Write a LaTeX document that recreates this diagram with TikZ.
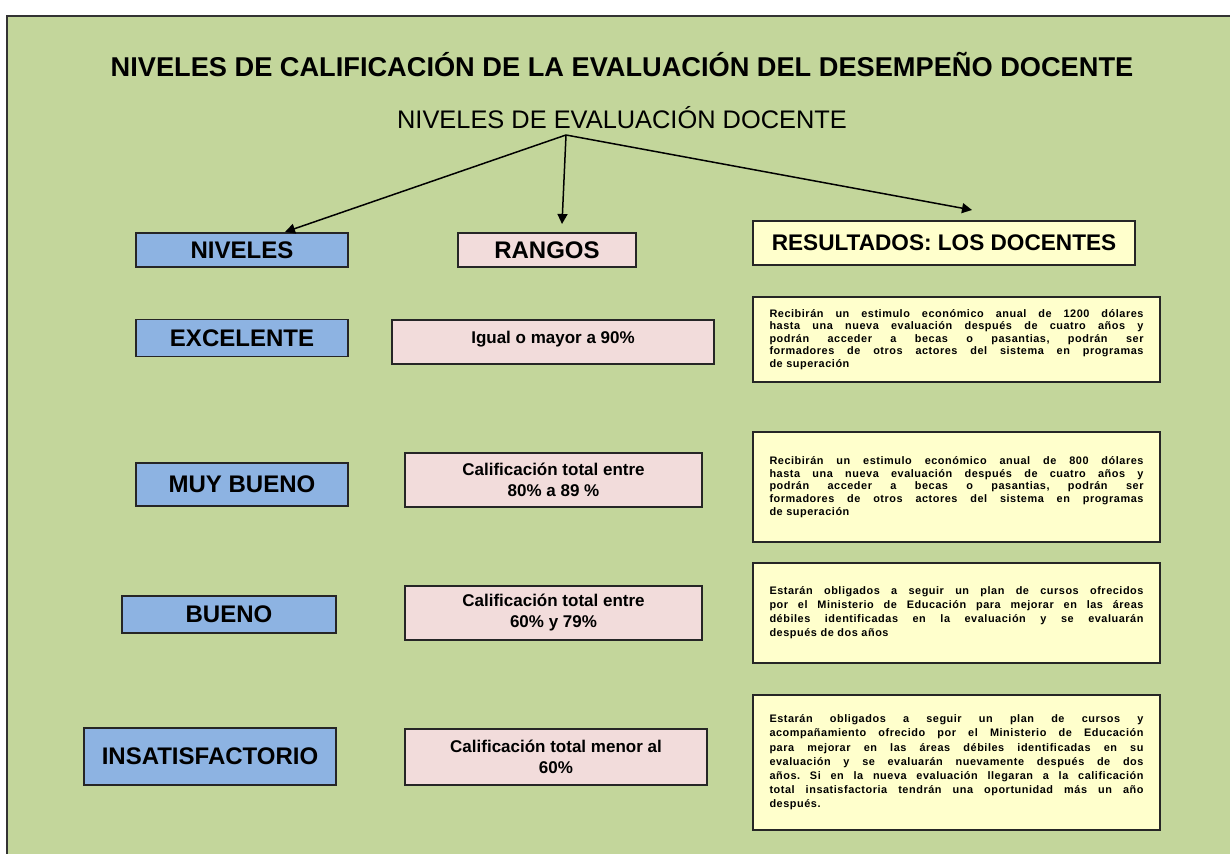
\documentclass[tikz,border=0pt]{standalone}
\usepackage{fontspec}
\setmainfont{Liberation Sans}
\newfontfamily\letrapeque[LetterSpace=5]{Liberation Sans}
\usetikzlibrary{arrows.meta}
\definecolor{fondo}{HTML}{C3D69B}
\definecolor{azul}{HTML}{8DB3E2}
\definecolor{rosa}{HTML}{F2DCDB}
\definecolor{crema}{HTML}{FFFFCC}
\hyphenpenalty=10000
\exhyphenpenalty=10000
\frenchspacing

\begin{document}
\begin{tikzpicture}[x=0.5pt,y=-0.5pt,>={Triangle[length=5pt,width=5pt]},
    caja/.style={draw=black!85,line width=0.8pt,inner sep=0pt},
    nivel/.style={caja,fill=azul,minimum width=106pt,minimum height=18.5pt,
      font=\fontsize{12}{14}\selectfont\bfseries},
    rango/.style={caja,fill=rosa,minimum width=148.5pt,minimum height=27pt,
      align=center,font=\fontsize{8.5}{10.5}\selectfont\bfseries},
    resultado/.style={caja,fill=crema,text width=187pt,inner xsep=8.25pt,
      align=justify,font=\letrapeque\fontsize{5.45}{#1}\selectfont\bfseries}]
  \useasboundingbox (0,0) rectangle (1230,854);
  \fill[fondo] (7,16) rectangle (1230,854);
  \draw[line width=1pt,black!80] (7,854) -- (7,16) -- (1230,16);

  \node[font=\fontsize{13.6}{16}\selectfont\bfseries] (titulo) at (622,65)
    {NIVELES DE CALIFICACIÓN DE LA EVALUACIÓN DEL DESEMPEÑO DOCENTE};
  \node[font=\fontsize{12.7}{15}\selectfont] (evaluacion) at (622,118)
    {NIVELES DE EVALUACIÓN DOCENTE};

  % cabeceras
  \node[nivel,minimum height=17pt] (niveles) at (242,250) {NIVELES};
  \node[rango,minimum width=89pt,minimum height=17pt,
    font=\fontsize{12}{14}\selectfont\bfseries] (rangos) at (547,250) {RANGOS};
  \node[caja,fill=crema,minimum width=191pt,minimum height=22pt,
    font=\fontsize{11.3}{13}\selectfont\bfseries] (resultados) at (944,243)
    {RESULTADOS: LOS DOCENTES};

  % niveles
  \node[nivel] (excelente) at (242,338) {EXCELENTE};
  \node[nivel,minimum height=21.5pt] (muybueno) at (242,484.5) {MUY BUENO};
  \node[nivel,minimum width=107pt] (bueno) at (229,614.5) {BUENO};
  \node[nivel,minimum width=126pt,minimum height=28.5pt] (insatis) at (210,756.5)
    {INSATISFACTORIO};

  % rangos
  \node[rango,minimum width=161pt,minimum height=22pt,text depth=5pt] (r1) at (553,342)
    {Igual o mayor a 90\%};
  \node[rango] (r2) at (553.5,480) {Calificación total entre\\80\% a 89 \%};
  \node[rango] (r3) at (553.5,613) {Calificación total entre\\60\% y 79\%};
  \node[rango,minimum width=151pt,minimum height=28pt] (r4) at (556,757)
    {Calificación total menor al\\60\%};

  % resultados
  \node[resultado=6.2pt,minimum height=42.5pt] (res1) at (956.5,339.5)
    {Recibirán un estimulo económico anual de 1200 dólares\linebreak
     hasta una nueva evaluación después de cuatro años y\linebreak
     podrán acceder a becas o pasantias, podrán ser\linebreak
     formadores de otros actores del sistema en programas\linebreak
     de superación};
  \node[resultado=6.4pt,minimum height=55pt] (res2) at (956.5,487)
    {Recibirán un estimulo económico anual de 800 dólares\linebreak
     hasta una nueva evaluación después de cuatro años y\linebreak
     podrán acceder a becas o pasantias, podrán ser\linebreak
     formadores de otros actores del sistema en programas\linebreak
     de superación};
  \node[resultado=7pt,minimum height=50pt] (res3) at (956.5,613)
    {Estarán obligados a seguir un plan de cursos ofrecidos\linebreak
     por el Ministerio de Educación para mejorar en las áreas\linebreak
     débiles identificadas en la evaluación y se evaluarán\linebreak
     después de dos años};
  \node[resultado=7.1pt,minimum height=67.5pt] (res4) at (956.5,762.5)
    {Estarán obligados a seguir un plan de cursos y\linebreak
     acompañamiento ofrecido por el Ministerio de Educación\linebreak
     para mejorar en las áreas débiles identificadas en su\linebreak
     evaluación y se evaluarán nuevamente después de dos\linebreak
     años. Si en la nueva evaluación llegaran a la calificación\linebreak
     total insatisfactoria tendrán una oportunidad más un año\linebreak
     después.};

  \coordinate (raiz) at (566,135);
  \coordinate (aNiveles) at (285,232);
  \coordinate (aRangos) at (562,224);
  \coordinate (aResultados) at (972,210);

  \path[->,line width=0.75pt]
    (raiz) edge (aNiveles)
           edge (aRangos)
           edge (aResultados);
\end{tikzpicture}
\end{document}
